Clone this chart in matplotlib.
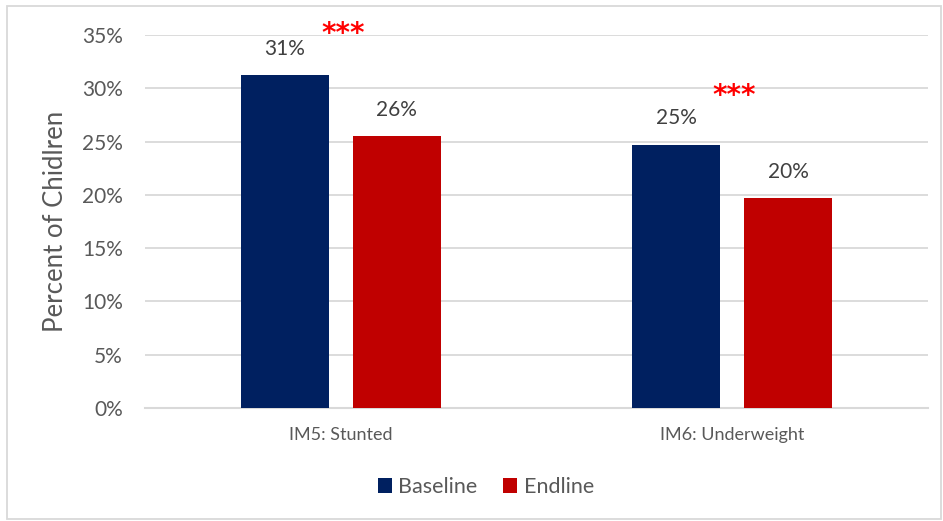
import matplotlib.pyplot as plt
from matplotlib.patches import Rectangle
from matplotlib.ticker import FuncFormatter

plt.rcParams['font.family'] = ['Lato', 'DejaVu Sans']

categories = ['IM5: Stunted', 'IM6: Underweight']
baseline = [31.2, 24.7]
endline = [25.5, 19.7]
series_names = ['Baseline', 'Endline']
significance = ['***', '***']

navy = '#002060'
red = '#C00000'
grid_col = '#D9D9D9'

fig = plt.figure(figsize=(9.43, 5.21), dpi=100)
ax = fig.add_axes([145 / 943, 1 - 408 / 521, 783 / 943, 373 / 521])

# light frame round the whole chart area
fig.patches.append(Rectangle((7 / 943, 2 / 521), 934 / 943, 513 / 521,
                             transform=fig.transFigure, fill=False,
                             edgecolor='#D9D9D9', linewidth=1.3))

x = list(range(len(categories)))
w = 0.225
off = 0.143
b1 = ax.bar([i - off for i in x], baseline, w, color=navy, label=series_names[0], zorder=3)
b2 = ax.bar([i + off for i in x], endline, w, color=red, label=series_names[1], zorder=3)

for bars in (b1, b2):
    for rect in bars:
        h = rect.get_height()
        ax.annotate(f'{h:.0f}%', (rect.get_x() + rect.get_width() / 2, h),
                    xytext=(0, 19), textcoords='offset points',
                    ha='center', va='center', fontsize=15, color='#404040')

# significance stars above each pair
star_gap = [3.9, 4.6]
for i, s in enumerate(significance):
    top = max(baseline[i], endline[i])
    ax.text(i + 0.005, top + star_gap[i], s, ha='center', va='center',
            fontsize=20, fontweight='bold', color='#FF0000',
            family='DejaVu Sans', clip_on=False)

ax.set_xlim(-0.5, 1.5)
ax.set_ylim(0, 35)
ax.set_yticks(range(0, 36, 5))
ax.yaxis.set_major_formatter(FuncFormatter(lambda v, p: f'{v:.0f}%'))
ax.set_xticks(x)
ax.set_xticklabels(categories)
ax.tick_params(axis='both', length=0, labelsize=15, labelcolor='#595959')
ax.tick_params(axis='y', pad=16)
ax.tick_params(axis='x', pad=14, labelsize=13)
ax.grid(axis='y', color=grid_col, linewidth=1.3, zorder=0)
for side in ('top', 'right', 'left'):
    ax.spines[side].set_visible(False)
ax.spines['bottom'].set_color(grid_col)
ax.spines['bottom'].set_linewidth(1.5)

ax.set_ylabel('Percent of Chidlren', fontsize=18.5, color='#595959', labelpad=10)

fig.legend(handles=[b1, b2], loc='center', bbox_to_anchor=(486 / 943, 1 - 487 / 521),
           ncol=2, frameon=False, fontsize=15.5, labelcolor='#595959',
           handlelength=0.65, handleheight=0.65, handletextpad=0.3, columnspacing=1.2)

fig.savefig('out.png', dpi=100)
